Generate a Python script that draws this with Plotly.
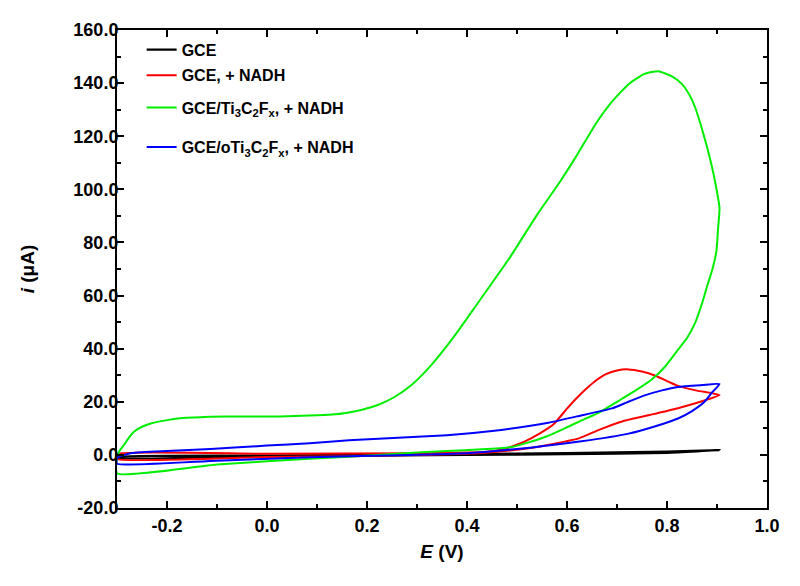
import plotly.graph_objects as go

# GCE (black)
gce_E = [-0.3, 0.0, 0.4, 0.6, 0.8, 0.905, 0.8, 0.6, 0.4, 0.0, -0.3, -0.3]
gce_i = [-0.8, -0.3, 0.3, 0.7, 1.2, 1.8, 0.8, 0.3, 0.0, -0.5, -1.2, -0.8]

# GCE + NADH (red)
red_E = [-0.3, 0.0, 0.3, 0.4, 0.44, 0.47, 0.49, 0.514, 0.545, 0.573, 0.6, 0.62, 0.638, 0.658,
         0.678, 0.70, 0.723, 0.75, 0.777, 0.80, 0.822, 0.86, 0.905,
         0.87, 0.82, 0.76, 0.71, 0.665, 0.625, 0.575, 0.527, 0.427, 0.2, 0.0, -0.3, -0.3]
red_i = [0.3, 0.4, 0.6, 0.9, 1.2, 2.0, 3.2, 4.9, 8.0, 11.5, 17.4, 21.5, 24.8, 28.0,
         30.4, 31.8, 32.2, 31.4, 29.8, 27.8, 26.0, 24.2, 22.5,
         20.2, 17.5, 14.8, 12.6, 9.5, 6.3, 4.2, 2.6, 0.7, -0.4, -0.8, -1.5, 0.3]

# GCE/Ti3C2Fx + NADH (green)
grn_E = [-0.3, -0.295, -0.285, -0.275, -0.265, -0.25, -0.231, -0.205, -0.178, -0.145, -0.113,
         -0.05, 0.026, 0.085, 0.13, 0.158, 0.19, 0.223, 0.255, 0.289, 0.328, 0.375, 0.421,
         0.486, 0.54, 0.585, 0.619, 0.658, 0.69, 0.723, 0.755, 0.783, 0.81, 0.83, 0.845,
         0.856, 0.868, 0.88, 0.888, 0.895, 0.905, 0.902, 0.899, 0.891, 0.881, 0.87, 0.856,
         0.84, 0.822, 0.795, 0.77, 0.735, 0.70, 0.665, 0.625, 0.59, 0.56, 0.525, 0.49, 0.43,
         0.36, 0.26, 0.164, 0.085, -0.1, -0.3, -0.3]
grn_i = [-1.0, 1.5, 4.0, 6.8, 8.9, 10.6, 11.9, 12.9, 13.7, 14.1, 14.4,
         14.5, 14.5, 14.8, 15.2, 15.8, 17.0, 18.9, 21.8, 26.3, 33.7, 44.8, 57.0,
         74.4, 90.4, 102.6, 112.6, 124.8, 133.0, 139.6, 143.5, 144.5, 142.5, 139.6, 135.5,
         131.0, 124.0, 116.0, 110.0, 104.0, 93.0, 85.0, 77.0, 70.0, 64.0, 57.0, 49.6,
         44.0, 39.6, 33.0, 28.5, 24.0, 20.0, 16.0, 12.6, 9.5, 7.0, 4.8, 3.0, 2.1,
         1.5, 0.4, -0.7, -1.5, -3.6, -7.0, -1.0]

# GCE/oTi3C2Fx + NADH (blue)
blu_E = [-0.3, -0.27, -0.2, -0.113, 0.0, 0.085, 0.164, 0.36, 0.45, 0.56, 0.62, 0.69, 0.72,
         0.757, 0.79, 0.822, 0.87, 0.905,
         0.89, 0.875, 0.85, 0.822, 0.78, 0.723, 0.625, 0.526, 0.44, 0.36, 0.164, 0.085,
         -0.1, -0.3, -0.3]
blu_i = [-1.1, 0.7, 1.5, 2.2, 3.5, 4.4, 5.5, 7.4, 9.0, 12.0, 14.5, 17.5, 19.8,
         22.5, 24.3, 25.6, 26.3, 26.7,
         23.5, 20.0, 16.5, 13.7, 11.0, 8.0, 5.0, 2.7, 1.2, 0.3, -0.5, -0.9,
         -2.2, -3.3, -1.1]

# tick labels
x_tickvals = [-0.2, 0.0, 0.2, 0.4, 0.6, 0.8, 1.0]
x_ticktext = ["-0.2", "0.0", "0.2", "0.4", "0.6", "0.8", "1.0"]
y_tickvals = [-20, 0, 20, 40, 60, 80, 100, 120, 140, 160]
y_ticktext = ["-20.0", "0.0", "20.0", "40.0", "60.0", "80.0", "100.0", "120.0", "140.0", "160.0"]

names = ["GCE", "GCE, + NADH",
         "GCE/Ti<sub>3</sub>C<sub>2</sub>F<sub>x</sub>, + NADH",
         "GCE/oTi<sub>3</sub>C<sub>2</sub>F<sub>x</sub>, + NADH"]
colors = ["#000000", "#ff0000", "#00ee00", "#0000ff"]
series = [(gce_E, gce_i), (red_E, red_i), (grn_E, grn_i), (blu_E, blu_i)]
legend_ids = ["legend", "legend2", "legend3", "legend4"]
legend_rows_px = [42, 68, 101, 141]  # row centres (page px)

FONT = "Arial, Liberation Sans, sans-serif"

fig = go.Figure()
for (E, I), nm, c, lg in zip(series, names, colors, legend_ids):
    fig.add_trace(go.Scatter(x=E, y=I, mode="lines", name=nm, legend=lg,
                             line=dict(color=c, width=2.3 if c == "#000000" else 2,
                                       shape="spline", smoothing=0.5)))

axis_common = dict(
    showline=True, linecolor="black", linewidth=2, mirror="allticks",
    ticks="inside", ticklen=7, tickwidth=2, tickcolor="black",
    showgrid=False, zeroline=False,
    tickfont=dict(family=FONT, size=18, color="black", weight="bold"),
)
minor_common = dict(ticks="inside", ticklen=4, tickwidth=2, tickcolor="black", showgrid=False,
                    tickmode="linear", tick0=0)

fig.update_xaxes(range=[-0.3, 1.0], tickmode="array", tickvals=x_tickvals, ticktext=x_ticktext,
                 minor=dict(dtick=0.1, **minor_common),
                 title=dict(text="<b><i>E</i> (V)</b>", font=dict(family=FONT, size=19, color="black"),
                            standoff=10),
                 ticklabelstandoff=0, **axis_common)
fig.update_yaxes(range=[-20, 160], tickmode="array", tickvals=y_tickvals, ticktext=y_ticktext,
                 minor=dict(dtick=10, **minor_common),
                 title=dict(text="<b><i>i</i> (μA)</b>", font=dict(family=FONT, size=19, color="black"),
                            standoff=34),
                 ticklabelstandoff=-7, **axis_common)

# page has an 8px body margin: plot area spans page x 117..776, y 22..508
W, H = 784, 570
ml, mr, mt, mb = 109, 16, 14, 70
plot_h = H - mt - mb
layout_legends = {}
for lg, row in zip(legend_ids, legend_rows_px):
    ypaper = (508 - row) / plot_h
    layout_legends[lg] = dict(x=(142 - 117) / (W - ml - mr), y=ypaper,
                              xanchor="left", yanchor="middle",
                              bgcolor="rgba(0,0,0,0)", borderwidth=0,
                              font=dict(family=FONT, size=16, color="black", weight="bold"))

fig.update_layout(
    width=W, height=H,
    margin=dict(l=ml, r=mr, t=mt, b=mb),
    paper_bgcolor="white", plot_bgcolor="white",
    showlegend=True,
    **layout_legends,
)

fig.write_html("out.html")
